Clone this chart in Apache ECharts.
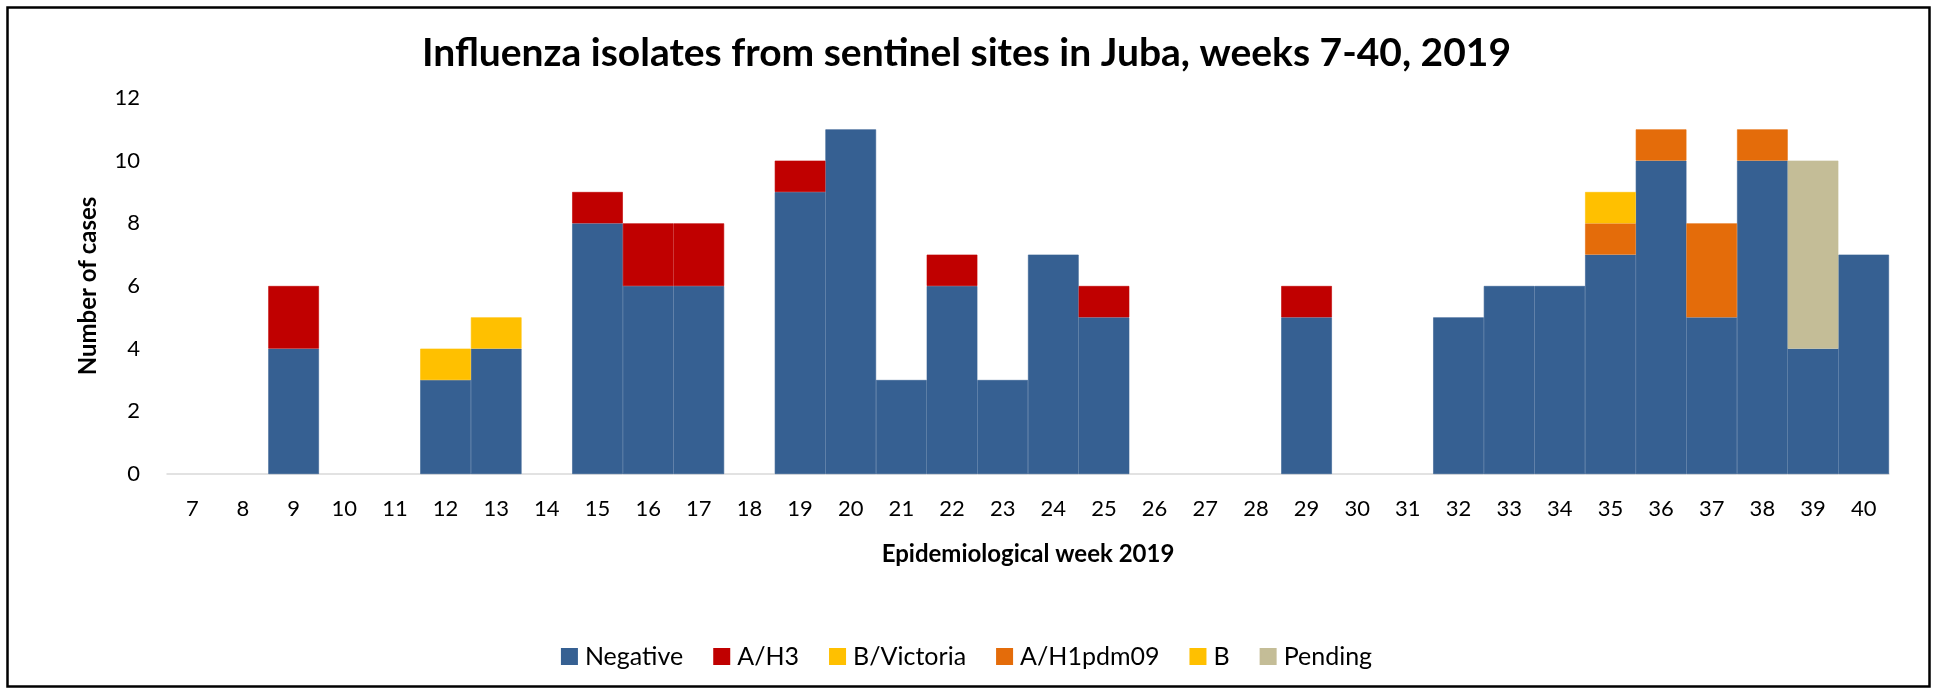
<!DOCTYPE html>
<html>
<head>
<meta charset="utf-8">
<script src="https://cdn.jsdelivr.net/npm/echarts@6/dist/echarts.min.js"></script>
<style>
html,body{margin:0;padding:0;background:#fff;}
#chart{width:1933px;height:690px;}
</style>
</head>
<body>
<div id="chart"></div>
<script>
const weeks = ['7','8','9','10','11','12','13','14','15','16','17','18','19','20','21','22','23','24','25','26','27','28','29','30','31','32','33','34','35','36','37','38','39','40'];
const negative  = [0,0,4,0,0,3,4,0,8,6,6,0,9,11,3,6,3,7,5,0,0,0,5,0,0,5,6,6,7,10,5,10,4,7];
const aH3       = [0,0,2,0,0,0,0,0,1,2,2,0,1,0,0,1,0,0,1,0,0,0,1,0,0,0,0,0,0,0,0,0,0,0];
const bVictoria = [0,0,0,0,0,1,1,0,0,0,0,0,0,0,0,0,0,0,0,0,0,0,0,0,0,0,0,0,0,0,0,0,0,0];
const aH1pdm09  = [0,0,0,0,0,0,0,0,0,0,0,0,0,0,0,0,0,0,0,0,0,0,0,0,0,0,0,0,1,1,3,1,0,0];
const bType     = [0,0,0,0,0,0,0,0,0,0,0,0,0,0,0,0,0,0,0,0,0,0,0,0,0,0,0,0,1,0,0,0,0,0];
const pending   = [0,0,0,0,0,0,0,0,0,0,0,0,0,0,0,0,0,0,0,0,0,0,0,0,0,0,0,0,0,0,0,0,6,0];

const seriesDefs = [
  ['Negative', negative, '#366092'],
  ['A/H3', aH3, '#C00000'],
  ['B/Victoria', bVictoria, '#FFC000'],
  ['A/H1pdm09', aH1pdm09, '#E46C0A'],
  ['B', bType, '#FFC000'],
  ['Pending', pending, '#C4BD97']
];

const FONT = 'Lato';
const chart = echarts.init(document.getElementById('chart'), null, {renderer:'canvas'});
chart.setOption({
  animation:false,
  backgroundColor:'#fff',
  title:{
    text:'Influenza isolates from sentinel sites in Juba, weeks 7-40, 2019',
    left:'center', top:29,
    textStyle:{fontFamily:FONT, fontWeight:'bold', fontSize:39, color:'#000'}
  },
  legend:{
    left:'center', top:639,
    itemWidth:15, itemHeight:15, itemGap:30, icon:'rect',
    textStyle:{fontFamily:FONT, fontSize:25, color:'#000', padding:[0,0,0,3]},
    data:seriesDefs.map(s=>s[0])
  },
  grid:{left:167, right:44, top:98, bottom:216, containLabel:false},
  xAxis:{
    type:'category', data:weeks,
    axisLine:{lineStyle:{color:'#D9D9D9', width:1.5}},
    axisTick:{show:false},
    axisLabel:{fontFamily:FONT, fontSize:22, color:'#000', margin:24, interval:0},
    name:'Epidemiological week 2019', nameLocation:'middle', nameGap:68,
    nameTextStyle:{fontFamily:FONT, fontWeight:'bold', fontSize:24, color:'#000'}
  },
  yAxis:{
    type:'value', min:0, max:12, interval:2,
    axisLine:{show:false}, axisTick:{show:false}, splitLine:{show:false},
    axisLabel:{fontFamily:FONT, fontSize:22, color:'#000', margin:27},
    name:'Number of cases', nameLocation:'middle', nameGap:67, nameRotate:90,
    nameTextStyle:{fontFamily:FONT, fontWeight:'bold', fontSize:24, color:'#000'}
  },
  series: seriesDefs.map(s=>({
    name:s[0], type:'bar', stack:'total',
    data:s[1].map(v => v === 0 ? '-' : v),
    barCategoryGap:'0%',
    itemStyle:{color:s[2], borderColor:s[2], borderWidth:0.6}
  })),
  graphic:[{
    type:'rect', left:5, top:5, silent:true, z:100,
    shape:{width:1922, height:679},
    style:{fill:'none', stroke:'#000', lineWidth:2.5}
  }]
});
</script>
</body>
</html>
